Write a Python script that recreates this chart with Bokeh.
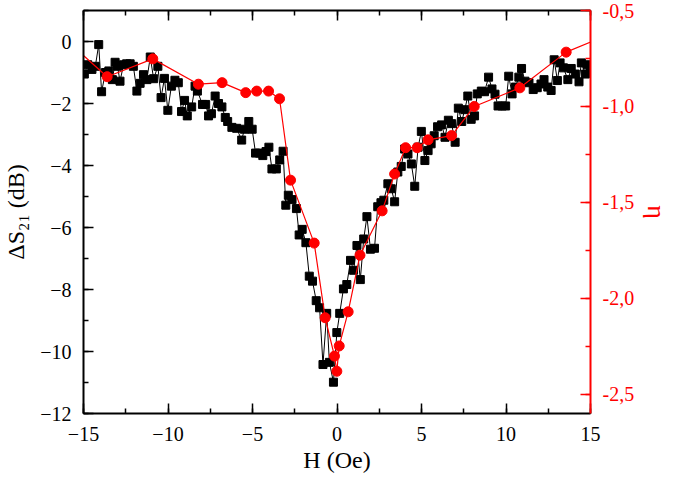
from bokeh.plotting import figure
from bokeh.models import (Range1d, LinearAxis, SingleIntervalTicker, CustomJSTickFormatter)
from bokeh.embed import file_html
from bokeh.resources import INLINE

# ---- data ----
H_s21 = [-14.95, -14.75, -14.5, -14.3, -14.1, -13.93, -13.7, -13.5, -13.29, -13.13,
         -12.99, -12.84, -12.63, -12.45, -12.24, -12.05, -11.84, -11.65, -11.45, -11.25,
         -11.05, -10.85, -10.6, -10.41, -10.21, -10.01, -9.8, -9.59, -9.39, -9.2,
         -9.02, -8.86, -8.6, -8.4, -8.26, -7.96, -7.77, -7.6, -7.43, -7.21,
         -7.01, -6.81, -6.61, -6.47, -6.22, -5.94, -5.64, -5.48, -5.22, -5.02,
         -4.82, -4.58, -4.39, -4.2, -4.03, -3.85, -3.59, -3.39, -3.19, -3.03,
         -2.88, -2.66, -2.4, -2.24, -2.06, -1.84, -1.64, -1.45, -1.23, -1.03,
         -0.83, -0.61, -0.45, -0.21, -0.01, 0.16, 0.38, 0.58, 0.8, 0.98,
         1.18, 1.38, 1.58, 1.77, 1.98, 2.22, 2.41, 2.6, 2.77, 3.01,
         3.21, 3.41, 3.6, 3.8, 4.0, 4.2, 4.4, 4.6, 4.8, 4.99,
         5.2, 5.39, 5.57, 5.75, 5.95, 6.19, 6.39, 6.59, 6.78, 6.99,
         7.18, 7.38, 7.56, 7.74, 7.94, 8.14, 8.3, 8.54, 8.73, 8.97,
         9.17, 9.35, 9.53, 9.77, 9.98, 10.16, 10.36, 10.56, 10.76, 10.92,
         11.12, 11.36, 11.61, 11.85, 12.07, 12.25, 12.47, 12.67, 12.85, 13.04,
         13.2, 13.4, 13.66, 13.86, 14.1, 14.32, 14.46, 14.7, 14.8, 15.0]
dS21 = [-1.05, -0.75, -0.9, -0.8, -0.1, -1.62, -1.0, -0.95, -1.23, -0.67,
        -0.8, -1.28, -0.75, -0.72, -0.72, -0.8, -1.6, -1.35, -1.07, -1.23,
        -0.5, -1.2, -0.8, -1.81, -1.19, -2.22, -1.44, -1.25, -1.33, -2.26,
        -1.9, -2.4, -2.11, -1.44, -1.6, -2.03, -2.03, -2.4, -2.33, -1.76,
        -2.0, -2.11, -2.45, -2.58, -2.77, -2.8, -3.18, -2.83, -2.58, -2.83,
        -3.6, -3.6, -3.68, -3.55, -3.41, -4.11, -4.11, -3.82, -3.54, -5.28,
        -4.96, -5.1, -5.39, -6.24, -6.06, -6.49, -7.57, -7.73, -8.36, -8.59,
        -10.42, -8.77, -10.35, -10.99, -9.39, -8.77, -7.98, -7.84, -7.06, -7.38,
        -6.58, -7.68, -6.37, -5.65, -6.7, -6.67, -5.33, -5.2, -5.12, -4.59,
        -4.75, -5.17, -4.21, -4.03, -3.47, -3.63, -3.95, -4.67, -3.41, -2.9,
        -3.84, -3.52, -3.3, -3.04, -2.75, -2.69, -3.09, -2.54, -2.65, -3.25,
        -2.15, -2.58, -2.2, -1.76, -2.51, -2.4, -1.69, -1.6, -1.62, -1.15,
        -1.53, -1.7, -2.08, -2.08, -2.08, -1.12, -1.69, -1.47, -1.15, -0.87,
        -1.28, -1.33, -1.55, -1.49, -1.37, -1.23, -1.47, -1.58, -0.59, -1.26,
        -0.69, -0.85, -1.23, -0.87, -1.05, -1.3, -0.69, -1.05, -0.75, -1.0]

H_eta = [-16.2, -13.6, -10.9, -8.2, -6.8, -5.4, -4.75, -4.05, -3.4, -2.75,
         -1.35, -0.7, -0.15, -0.01, 0.13, 0.66, 1.36, 2.67, 3.41, 4.06,
         4.74, 5.39, 6.78, 8.12, 10.82, 13.56, 16.2]
eta = [-0.64, -0.845, -0.752, -0.884, -0.876, -0.928, -0.92, -0.92, -0.96, -1.384,
       -1.712, -2.101, -2.301, -2.38, -2.248, -2.07, -1.775, -1.544, -1.352, -1.215,
       -1.215, -1.174, -1.152, -1.0, -0.903, -0.717, -0.62]

x_range = (-15, 15)
left_range = (-12, 1)
right_range = (-2.6, -0.5)

FONT = "Liberation Serif"
RED = "#ff0000"

p = figure(frame_width=507, frame_height=403, output_backend="svg", toolbar_location=None,
           x_range=Range1d(*x_range), y_range=Range1d(*left_range),
           min_border_left=79, min_border_right=60, min_border_top=10, min_border_bottom=52)
p.outline_line_color = None
p.grid.visible = False
p.background_fill_color = "white"
p.border_fill_color = "white"

p.extra_y_ranges = {"eta": Range1d(*right_range)}

def style_axis(ax, color="black"):
    ax.axis_line_color = color
    ax.axis_line_width = 2
    ax.major_tick_line_color = color
    ax.minor_tick_line_color = color
    ax.major_tick_line_width = 1.5
    ax.minor_tick_line_width = 1.5
    ax.major_tick_in = 10
    ax.major_tick_out = 0
    ax.minor_tick_in = 5
    ax.minor_tick_out = 0
    ax.major_label_text_font = FONT
    ax.major_label_text_font_size = "20px"
    ax.major_label_text_color = color
    ax.axis_label_text_font = FONT
    ax.axis_label_text_font_size = "24px"
    ax.axis_label_text_font_style = "normal"
    ax.axis_label_text_color = color

# bottom x axis
xa = p.xaxis[0]
xa.ticker = SingleIntervalTicker(interval=5, num_minor_ticks=2)
style_axis(xa)
xa.axis_label = "H (Oe)"
xa.major_label_standoff = 13
xa.axis_label_standoff = 3

# left y axis
ya = p.yaxis[0]
ya.ticker = SingleIntervalTicker(interval=2, num_minor_ticks=2)
style_axis(ya)
ya.axis_label = "ΔS₂₁ (dB)"
ya.major_label_standoff = 12
ya.axis_label_standoff = 8

# top axis (ticks only)
ta = LinearAxis(ticker=SingleIntervalTicker(interval=5, num_minor_ticks=2))
style_axis(ta)
ta.formatter = CustomJSTickFormatter(code="return '';")
ta.major_label_standoff = 0
p.add_layout(ta, "above")

# right axis (eta, red)
ra = LinearAxis(y_range_name="eta", ticker=SingleIntervalTicker(interval=0.5, num_minor_ticks=2))
style_axis(ra, RED)
ra.formatter = CustomJSTickFormatter(code="return tick.toFixed(1).replace('.', ',');")
ra.major_label_standoff = 12
ra.axis_label = "η"
ra.axis_label_standoff = 5
ra.axis_label_text_font_size = "26px"
p.add_layout(ra, "right")

# black series
p.line(H_s21, dS21, line_color="black", line_width=1)
p.scatter(H_s21, dS21, marker="square", size=8, fill_color="black", line_color="black")

# red series
p.line(H_eta, eta, y_range_name="eta", line_color=RED, line_width=1.2)
p.scatter(H_eta, eta, y_range_name="eta", marker="circle", size=10,
          fill_color=RED, line_color=RED)

open("out.html", "w").write(file_html(p, INLINE))
